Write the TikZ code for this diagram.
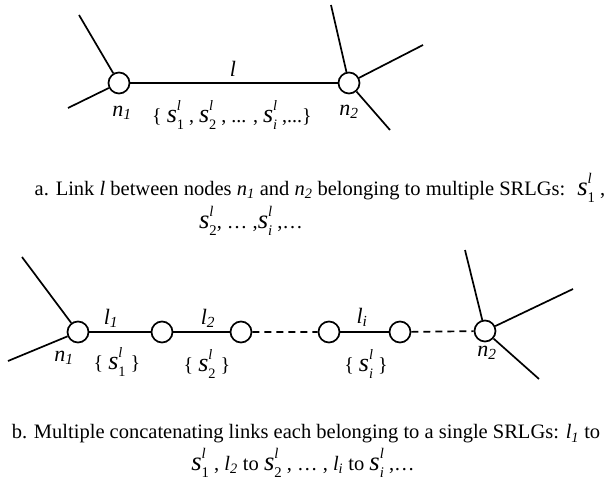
\documentclass[tikz,border=0pt]{standalone}
\usepackage{fontspec}
\setmainfont{Liberation Serif}
\makeatletter
\newcommand\rscale[1]{\edef\tmpsz{\strip@pt\dimexpr#1\dimexpr\f@size pt\relax\relax}\fontsize{\tmpsz}{\tmpsz}\selectfont}
\makeatother
\newcommand\ssl[1]{{\rscale{1.3}\textit{s}}\makebox[0pt][l]{\raisebox{0.6em}{\rscale{0.72}\textit{l}}}\raisebox{-0.36em}{\rscale{0.72}#1}}
\tikzset{
  vtx/.style={circle,draw,fill=white,line width=1.7pt,minimum size=21pt,inner sep=0pt},
  edge/.style={line width=1.7pt},
  dedge/.style={line width=1.7pt,dash pattern=on 7pt off 5pt},
  lbl/.style={inner sep=0pt,font=\fontsize{22}{24}\selectfont\itshape},
  setlbl/.style={inner sep=0pt,font=\fontsize{20}{24}\selectfont},
  captxt/.style={inner sep=0pt,font=\fontsize{20.5}{24}\selectfont}
}
\begin{document}
\begin{tikzpicture}[x=1pt,y=-1pt]
\useasboundingbox[fill=white] (0,0) rectangle (613,486);
% top
\coordinate (a1) at (79,15);
\coordinate (a2) at (68,108);
\coordinate (b1) at (331,5);
\coordinate (b2) at (423,45);
\coordinate (b3) at (390,130);
\node[vtx] (n1) at (119,83) {};
\node[vtx] (n2) at (349,83) {};
\draw[edge] (a1) -- (n1) (a2) -- (n1);
\draw[edge] (b1) -- (n2) (b2) -- (n2) (b3) -- (n2);
\draw[edge] (n1) -- (n2);
\node[lbl] (ll) at (233,69) {l};
\node[lbl] (tn1) at (122,113) {n\textsubscript{1}};
\node[lbl] (tn2) at (349,112) {n\textsubscript{2}};
\node[setlbl] (set) at (232,115) {\{ \ssl{1} , \ssl{2} , ... , \ssl{\textit{i}} ,...\}};
% caption a
\node[captxt] (capa1) at (320,188) {a. Link \textit{l} between nodes \textit{n\textsubscript{1}} and \textit{n\textsubscript{2}} belonging to multiple SRLGs: \ \ssl{1} ,};
\node[captxt] (capa2) at (251,221) {\ssl{2}, \dots\ ,\ssl{\textit{i}} ,\dots};
% bottom
\coordinate (c1) at (22,257);
\coordinate (c2) at (8,361);
\coordinate (d1) at (465,250);
\coordinate (d2) at (573,289);
\coordinate (d3) at (539,379);
\node[vtx] (m1) at (78,332) {};
\node[vtx] (m2) at (162,332) {};
\node[vtx] (m3) at (241,332) {};
\node[vtx] (m4) at (329,332) {};
\node[vtx] (m5) at (400,332) {};
\node[vtx] (m6) at (485,331) {};
\draw[edge] (c1) -- (m1) (c2) -- (m1);
\draw[edge] (d1) -- (m6) (d2) -- (m6) (d3) -- (m6);
\draw[edge] (m1) -- (m2) (m2) -- (m3) (m4) -- (m5);
\draw[dedge] (m3) -- (m4) (m5) -- (m6);
\node[lbl] (l1) at (111,318) {l\textsubscript{1}};
\node[lbl] (l2) at (208,318) {l\textsubscript{2}};
\node[lbl] (li) at (362,317) {l\textsubscript{i}};
\node[lbl] (bn1) at (64,358) {n\textsubscript{1}};
\node[lbl] (bn2) at (487,353) {n\textsubscript{2}};
\node[setlbl] (s1) at (117,362) {\{ \ssl{1} \}};
\node[setlbl] (s2) at (207,364) {\{ \ssl{2} \}};
\node[setlbl] (si) at (366,364) {\{ \ssl{\textit{i}} \}};
% caption b
\node[captxt] (capb1) at (306,434) {b. Multiple concatenating links each belonging to a single SRLGs: \textit{l\textsubscript{1}} to};
\node[captxt] (capb2) at (303,463) {\ssl{1} , \textit{l\textsubscript{2}} to \ssl{2} , \dots\ , \textit{l\textsubscript{i}} to \ssl{\textit{i}} ,\dots};
\end{tikzpicture}
\end{document}
